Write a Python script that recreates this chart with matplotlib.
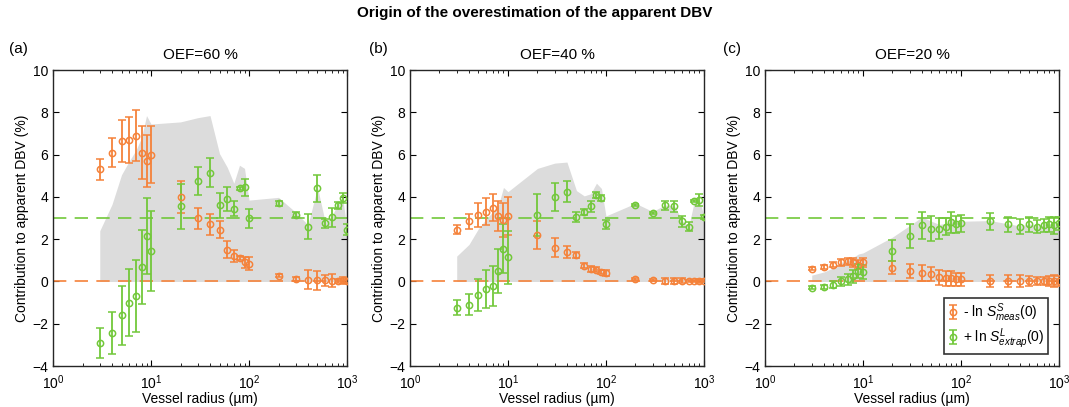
import numpy as np
import matplotlib
matplotlib.use("Agg")
import matplotlib.pyplot as plt

plt.rcParams['font.family'] = ['Liberation Sans', 'DejaVu Sans']
plt.rcParams['mathtext.fontset'] = 'custom'
plt.rcParams['mathtext.rm'] = 'Liberation Sans'
plt.rcParams['mathtext.it'] = 'Liberation Sans:italic'

radius = [3, 4, 5, 6, 7, 8, 9, 10, 20, 30, 40, 50, 60, 70, 80, 90, 100,
          200, 300, 400, 500, 600, 700, 800, 900, 1000]

oef_titles = ["OEF=60 %", "OEF=40 %", "OEF=20 %"]
panel_tags = ["(a)", "(b)", "(c)"]

# - ln S^S_meas(0)
meas_60 = [5.3, 6.1, 6.65, 6.7, 6.9, 6.1, 5.7, 6.0, 4.0, 3.0, 2.7, 2.45, 1.5, 1.2, 1.1, 0.9, 0.85,
           0.28, 0.12, 0.08, 0.05, 0.05, 0.04, 0.03, 0.05, 0.04]
meas_60_err = [0.5, 0.7, 1.0, 1.1, 1.2, 1.25, 1.25, 1.35, 0.75, 0.5, 0.5, 0.4, 0.4, 0.3, 0.1, 0.25, 0.3,
               0.08, 0.08, 0.45, 0.45, 0.25, 0.3, 0.1, 0.15, 0.1]
meas_40 = [2.45, 2.85, 3.15, 3.3, 3.5, 3.1, 2.9, 3.1, 2.2, 1.6, 1.4, 1.25, 0.75, 0.6, 0.55, 0.45, 0.4,
           0.1, 0.06, 0.02, 0.03, 0.03, 0.01, 0.02, 0.02, 0.03]
meas_40_err = [0.2, 0.35, 0.55, 0.65, 0.65, 0.7, 0.8, 0.9, 0.65, 0.45, 0.3, 0.15, 0.12, 0.15, 0.12, 0.1, 0.12,
               0.05, 0.05, 0.15, 0.15, 0.12, 0.05, 0.05, 0.1, 0.05]
meas_20 = [0.6, 0.7, 0.8, 0.9, 0.95, 0.9, 0.8, 0.9, 0.65, 0.5, 0.4, 0.35, 0.2, 0.15, 0.15, 0.1, 0.1,
           0.03, 0.03, 0.03, 0.03, 0.03, 0.02, 0.02, 0.02, 0.03]
meas_20_err = [0.07, 0.1, 0.12, 0.15, 0.17, 0.2, 0.2, 0.2, 0.3, 0.35, 0.4, 0.35, 0.35, 0.35, 0.35, 0.3, 0.3,
               0.3, 0.3, 0.3, 0.25, 0.2, 0.2, 0.25, 0.3, 0.25]

# + ln S^L_extrap(0)
extrap_60 = [-2.9, -2.45, -1.6, -1.0, -0.7, 0.7, 2.15, 1.45, 3.55, 4.75, 5.15, 3.6, 3.9, 3.45, 4.4, 4.45, 3.0,
             3.7, 3.15, 2.6, 4.4, 2.75, 3.05, 3.6, 3.95, 2.45]
extrap_60_err = [0.7, 1.0, 1.4, 1.6, 1.7, 1.75, 1.8, 1.9, 1.05, 0.65, 0.7, 0.6, 0.55, 0.35, 0.05, 0.4, 0.45,
                 0.12, 0.12, 0.6, 0.65, 0.2, 0.45, 0.15, 0.25, 0.25]
extrap_40 = [-1.25, -1.1, -0.65, -0.35, -0.2, 0.5, 1.55, 1.15, 3.15, 4.0, 4.25, 3.05, 3.3, 3.55, 4.1, 3.95, 2.7,
             3.6, 3.25, 3.6, 3.55, 2.85, 2.6, 3.8, 3.85, 3.05]
extrap_40_err = [0.35, 0.5, 0.75, 0.9, 0.95, 1.05, 1.15, 1.25, 1.0, 0.65, 0.5, 0.25, 0.15, 0.25, 0.15, 0.15, 0.2,
                 0.05, 0.05, 0.2, 0.25, 0.25, 0.2, 0.05, 0.3, 0.1]
extrap_20 = [-0.3, -0.25, -0.15, 0.0, 0.1, 0.25, 0.5, 0.45, 1.45, 2.15, 2.65, 2.5, 2.5, 2.6, 2.8, 2.7, 2.75,
             2.85, 2.7, 2.6, 2.7, 2.6, 2.65, 2.7, 2.65, 2.75]
extrap_20_err = [0.07, 0.1, 0.15, 0.2, 0.25, 0.3, 0.35, 0.35, 0.5, 0.55, 0.65, 0.6, 0.5, 0.4, 0.5, 0.4, 0.4,
                 0.4, 0.35, 0.35, 0.35, 0.3, 0.3, 0.35, 0.4, 0.3]

true_dbv = 3.0

orange = '#F5823A'
green = '#72C83A'
grey = '#DCDCDC'

panels = [(meas_60, meas_60_err, extrap_60, extrap_60_err),
          (meas_40, meas_40_err, extrap_40, extrap_40_err),
          (meas_20, meas_20_err, extrap_20, extrap_20_err)]

fig = plt.figure(figsize=(10.69, 4.07), dpi=100)
lefts = [0.0496, 0.3835, 0.7156]
label_x = [0.008, 0.345, 0.676]

for i, (m, me, e, ee) in enumerate(panels):
    ax = fig.add_axes([lefts[i], 0.1007, 0.275, 0.727])
    m = np.array(m)
    e = np.array(e)
    # grey band = total apparent DBV (sum of both contributions)
    ax.fill_between(radius, 0, m + e, color=grey, linewidth=0, zorder=1)
    ax.axhline(true_dbv, color=green, dashes=(8, 5), lw=1.2, zorder=2)
    ax.axhline(0, color=orange, dashes=(8, 5), lw=1.2, zorder=2)
    ax.errorbar(radius, m, yerr=me, fmt='o', mfc='none', mec=orange, ecolor=orange,
                ms=4.5, mew=1.1, elinewidth=1.3, capsize=3, capthick=1.3, zorder=3,
                label=r'- ln $\mathit{S}^{\mathit{S}}_{\mathit{meas}}$(0)')
    ax.errorbar(radius, e, yerr=ee, fmt='o', mfc='none', mec=green, ecolor=green,
                ms=4.5, mew=1.1, elinewidth=1.3, capsize=3, capthick=1.3, zorder=3,
                label=r'+ ln $\mathit{S}^{\mathit{L}}_{\mathit{extrap}}$(0)')
    ax.set_xscale('log')
    ax.set_xlim(1, 1000)
    ax.set_ylim(-4, 10)
    ax.set_yticks(np.arange(-4, 11, 2))
    ax.tick_params(which='both', direction='in', top=True, right=True, labelsize=10)
    ax.tick_params(axis='x', which='major', pad=5)
    ax.tick_params(which='major', length=4)
    ax.tick_params(which='minor', length=2)
    for s in ax.spines.values():
        s.set_linewidth(1.0)
        s.set_color('#262626')
    ax.set_xlabel('Vessel radius (\u00b5m)', fontsize=10, labelpad=0)
    ax.set_ylabel('Contribution to apparent DBV (%)', fontsize=10, labelpad=2)
    ax.set_title(oef_titles[i], fontsize=11, pad=8)
    fig.text(label_x[i], 0.87, panel_tags[i], fontsize=11)
    if i == 2:
        leg = ax.legend(loc='lower right', fontsize=10, frameon=True, fancybox=False,
                        edgecolor='black', handlelength=0.7, handletextpad=0.4,
                        borderpad=0.25, labelspacing=0.15, borderaxespad=0,
                        bbox_to_anchor=(0.963, 0.04))
        leg.get_frame().set_linewidth(1.2)

fig.suptitle('Origin of the overestimation of the apparent DBV', fontsize=11,
             fontweight='bold', y=0.985)
fig.savefig('out.png', dpi=100)
